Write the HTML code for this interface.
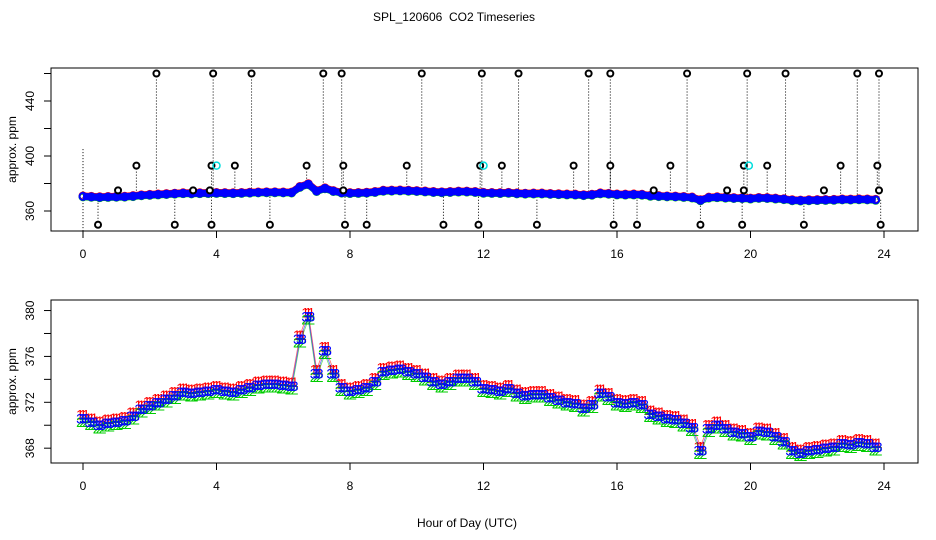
<!DOCTYPE html>
<html><head><meta charset="utf-8">
<style>
html,body{margin:0;padding:0;background:#fff;}
svg{display:block;font-family:"Liberation Sans",sans-serif;}
</style></head>
<body>
<svg id="chart" width="936" height="540" viewBox="0 0 936 540" xmlns="http://www.w3.org/2000/svg">
<rect width="936" height="540" fill="#fff"/>
<text x="454" y="21" font-size="12" text-anchor="middle" style="white-space:pre">SPL_120606  CO2 Timeseries</text>
<g id="topPanel"></g>
<g id="botPanel"></g>
<text x="467" y="527" font-size="12" text-anchor="middle">Hour of Day (UTC)</text>
</svg>
<script>
// ---- data ----
const hours = [0,0.25,0.5,0.75,1,1.25,1.5,1.75,2,2.25,2.5,2.75,3,3.25,3.5,3.75,4,4.25,4.5,4.75,5,5.25,5.5,5.75,6,6.25,6.5,6.75,7,7.25,7.5,7.75,8,8.25,8.5,8.75,9,9.25,9.5,9.75,10,10.25,10.5,10.75,11,11.25,11.5,11.75,12,12.25,12.5,12.75,13,13.25,13.5,13.75,14,14.25,14.5,14.75,15,15.25,15.5,15.75,16,16.25,16.5,16.75,17,17.25,17.5,17.75,18,18.25,18.5,18.75,19,19.25,19.5,19.75,20,20.25,20.5,20.75,21,21.25,21.5,21.75,22,22.25,22.5,22.75,23,23.25,23.5,23.75];
const co2Sensor3 = [370.6,370.3,370.0,370.2,370.3,370.4,370.8,371.4,371.7,372.0,372.3,372.6,372.9,372.8,372.9,373.0,373.1,373.0,372.9,373.1,373.3,373.5,373.6,373.6,373.5,373.4,377.5,379.5,374.5,376.5,374.5,373.3,373.0,373.1,373.3,373.8,374.7,374.8,374.9,374.7,374.5,374.2,373.8,373.6,373.8,374.1,374.1,373.8,373.2,373.1,373.0,373.2,372.8,372.6,372.7,372.7,372.4,372.2,372.0,371.9,371.5,371.8,372.8,372.5,372.0,371.9,372.0,371.8,371.0,370.8,370.6,370.5,370.2,369.8,367.8,369.7,370.0,369.7,369.4,369.3,369.0,369.5,369.4,369.0,368.6,367.8,367.6,367.8,367.9,368.0,368.1,368.4,368.3,368.5,368.4,368.1];
const co2Sensor1 = co2Sensor3.map(v=>v+0.35);
const co2Sensor2 = co2Sensor3.map(v=>v-0.3);
const outlierHours = [2.2,3.9,5.05,7.2,7.75,10.15,11.95,13.05,15.15,15.8,18.1,19.9,21.05,23.2,23.85,
 1.6,3.85,4.55,6.7,7.8,9.7,11.9,12.55,14.7,15.8,17.6,19.8,20.5,22.7,23.8,
 1.05,3.3,3.8,7.8,17.1,19.3,19.8,22.2,23.85,
 0.45,2.75,3.85,5.6,7.85,8.5,10.8,11.85,13.6,15.9,16.6,18.5,19.75,21.6,23.9];
const outlierValues = [460,460,460,460,460,460,460,460,460,460,460,460,460,460,460,
 393,393,393,393,393,393,393,393,393,393,393,393,393,393,393,
 375,375,375,375,375,375,375,375,375,
 350,350,350,350,350,350,350,350,350,350,350,350,350,350,350];
const cyanHours = [4.0,12.0,19.95];
const cyanValues = [393,393,393];
const xTicks = [0,4,8,12,16,20,24];
const topYTicks = [360,380,400,420,440,460];
const topYLabels = [360,400,440];
const botYTicks = [368,370,372,374,376,378,380];
const botYLabels = [368,372,376,380];

const NS="http://www.w3.org/2000/svg";
function mk(parent,tag,attrs,text){const e=document.createElementNS(NS,tag);for(const k in attrs)e.setAttribute(k,attrs[k]);if(text!==undefined)e.textContent=text;parent.appendChild(e);return e;}
const X0=51,X1=918;
const sx=h=>83+h*33.375;
const syTop=v=>211-(v-360)*1.375;
const syBot=v=>402.3-(v-372)*11.47;

function axes(g,y0,y1,sy,yTicks,yLabels,prefix){
  let r=mk(g,'rect',{x:X0,y:y0,width:X1-X0,height:y1-y0,fill:'none',stroke:'#000','stroke-width':1});
  
  
  xTicks.forEach(t=>{
    let l=mk(g,'line',{x1:sx(t),x2:sx(t),y1:y1,y2:y1+7,stroke:'#000'});
    
    
    let tx=mk(g,'text',{x:sx(t),y:y1+27,'font-size':12,'text-anchor':'middle'},t);
    
    
  });
  yTicks.forEach(t=>{
    let l=mk(g,'line',{x1:X0-7,x2:X0,y1:sy(t),y2:sy(t),stroke:'#000'});
    
    
  });
  yLabels.forEach(t=>{
    let tx=mk(g,'text',{x:0,y:0,'font-size':12,'text-anchor':'middle',transform:`translate(34,${sy(t)}) rotate(-90)`},t);
    
    
  });
  let yt=mk(g,'text',{x:0,y:0,'font-size':12,'text-anchor':'middle',transform:`translate(16,${(y0+y1)/2}) rotate(-90)`},'approx. ppm');
  
  
}

// ---- top panel ----
const topG=document.getElementById('topPanel');
axes(topG,68,231,syTop,topYTicks,topYLabels,'top');
mk(topG,'line',{x1:sx(0),x2:sx(0),y1:syTop(405),y2:231,stroke:'#000','stroke-dasharray':'1,2'});
outlierHours.forEach((h,i)=>{
  const s=co2Sensor3[Math.min(hours.length-1,Math.round(h/0.25))];
  let l=mk(topG,'line',{x1:sx(h),x2:sx(h),y1:syTop(outlierValues[i]),y2:syTop(s),stroke:'#000','stroke-dasharray':'1,2'});
  
  
});
[[co2Sensor1,'#f00'],[co2Sensor2,'#0c0'],[co2Sensor3,'#00f']].forEach(([arr,c],k)=>{
  mk(topG,'polyline',{points:hours.map((h,i)=>sx(h)+','+syTop(arr[i])).join(' '),fill:'none',stroke:c,'stroke-width':7,'stroke-linejoin':'round'});
  hours.forEach((h,i)=>{
    let p=mk(topG,'circle',{cx:sx(h),cy:syTop(arr[i]),r:3.5,fill:'none',stroke:c,'stroke-width':2});
    
    
  });
});
outlierHours.forEach((h,i)=>{
  let c=mk(topG,'circle',{cx:sx(h),cy:syTop(outlierValues[i]),r:3,fill:'#fff',stroke:'#000','stroke-width':2});
  
  
});
cyanHours.forEach((h,i)=>{
  let c=mk(topG,'circle',{cx:sx(h),cy:syTop(cyanValues[i]),r:3.5,fill:'none',stroke:'#0dd','stroke-width':1.5});
  
  
});

// ---- bottom panel ----
const botG=document.getElementById('botPanel');
axes(botG,300,463,syBot,botYTicks,botYLabels,'bottom');
[[co2Sensor1,'#f00','1'],[co2Sensor2,'#0c0','2'],[co2Sensor3,'#00f','3']].forEach(([arr,c,lab],k)=>{
  const brk=[3.75,7.75,11.75,15.75,19.75];
  let seg=[];
  const flush=()=>{if(seg.length>1)mk(botG,'polyline',{points:seg.join(' '),fill:'none',stroke:c,'stroke-width':0.8,'stroke-opacity':0.6});seg=[];};
  hours.forEach((h,i)=>{seg.push(sx(h)+','+syBot(arr[i]));if(brk.includes(h))flush();});
  flush();
  hours.forEach((h,i)=>{
    [-0.09,0,0.09].forEach(dx=>{
      let t=mk(botG,'text',{x:sx(h+dx),y:syBot(arr[i])+5,'font-size':14,'text-anchor':'middle',fill:c},lab);
      
      
    });
  });
});
</script>
</body></html>
